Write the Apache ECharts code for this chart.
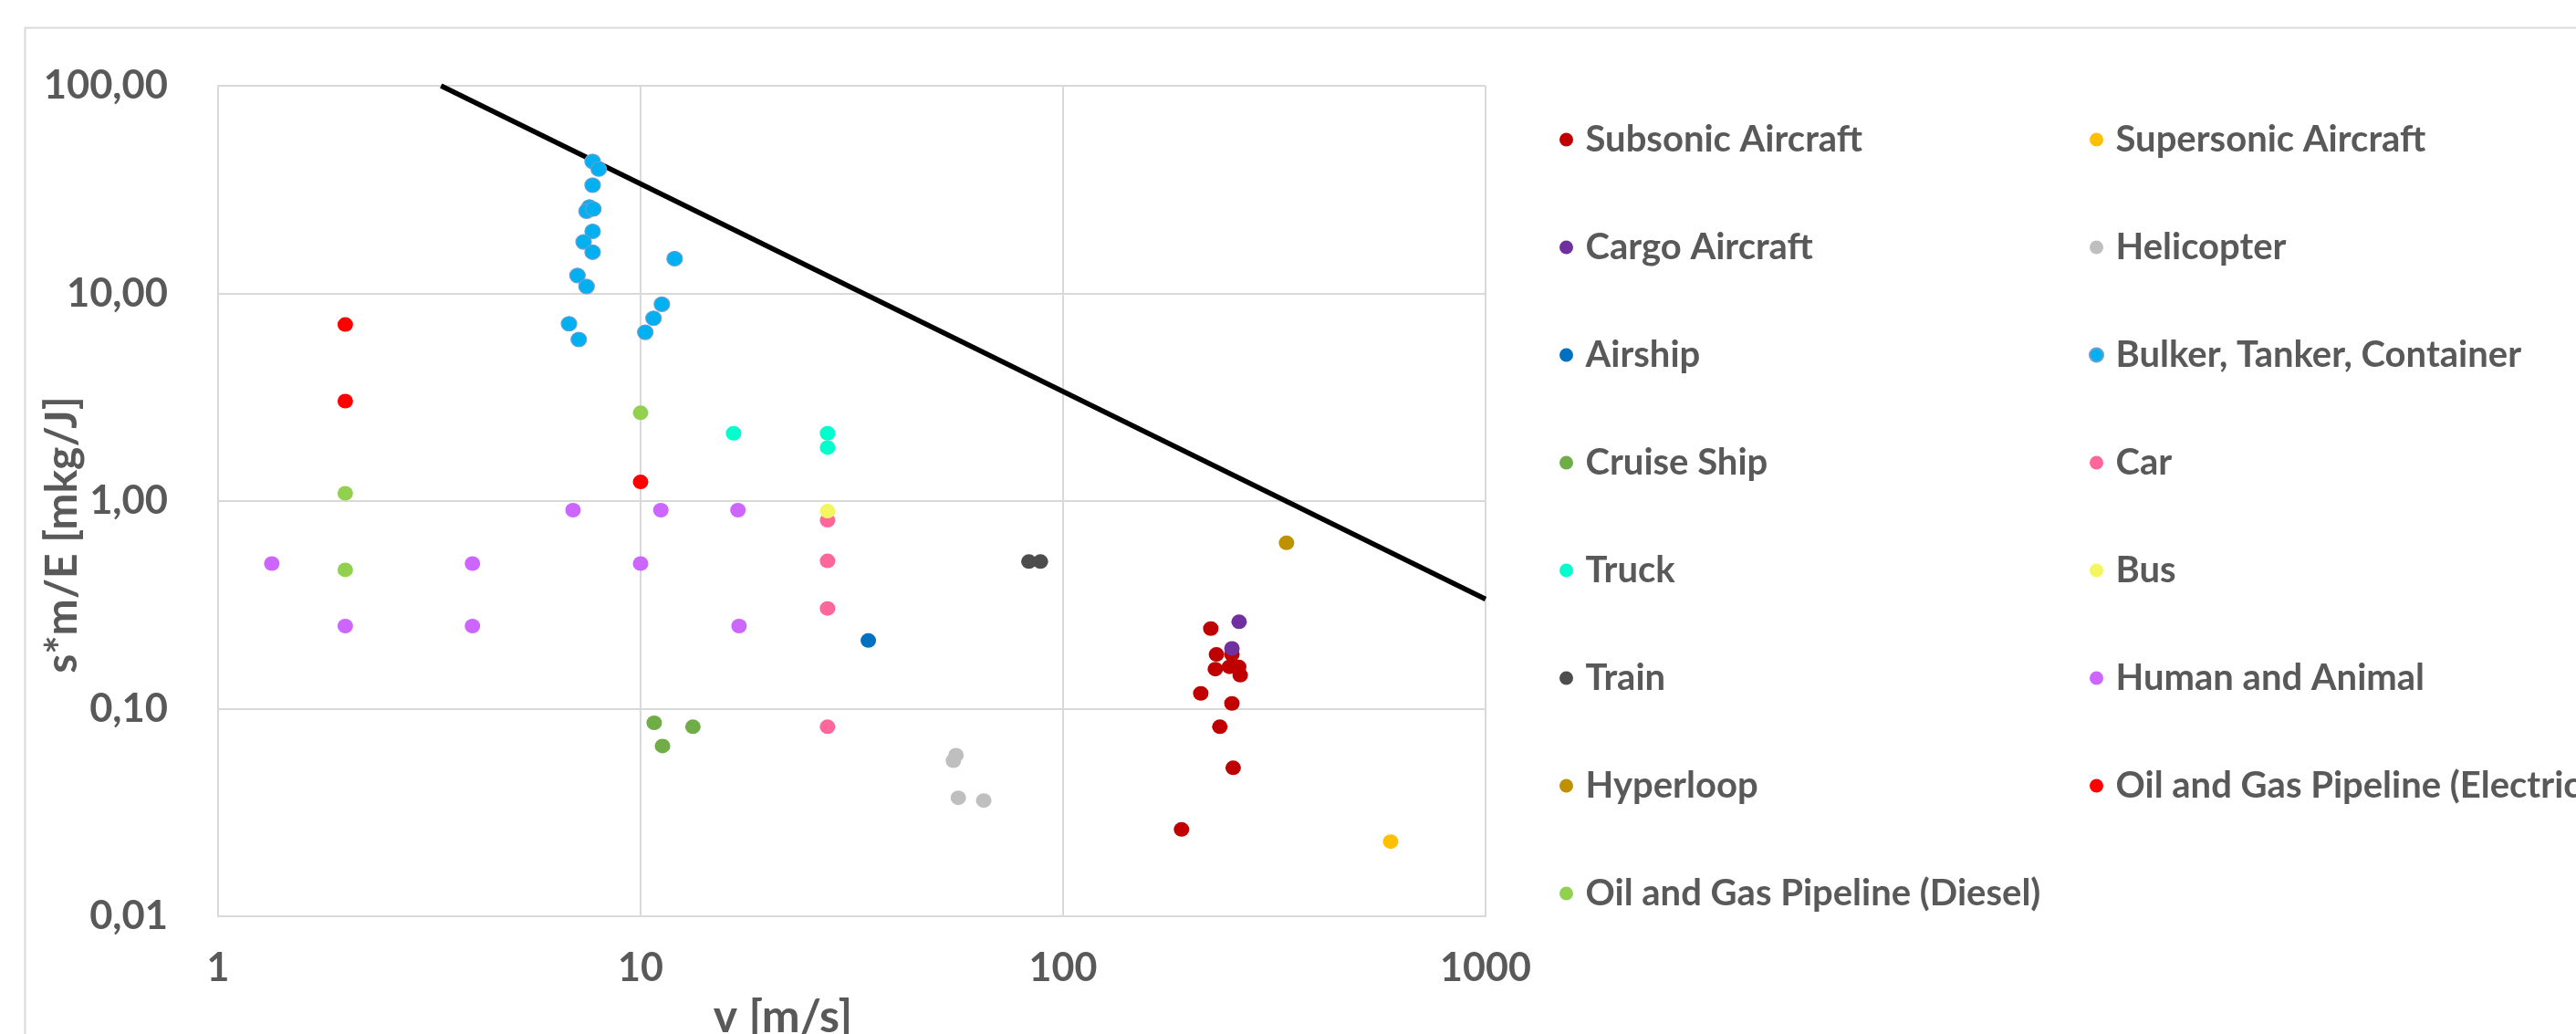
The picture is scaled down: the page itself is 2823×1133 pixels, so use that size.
<!DOCTYPE html>
<html>
<head>
<meta charset="utf-8">
<script src="https://cdn.jsdelivr.net/npm/echarts@6/dist/echarts.min.js"></script>
<style>
  html, body { margin: 0; padding: 0; background: #ffffff; overflow: hidden; }
  #chart { width: 2823px; height: 1133px; }
</style>
</head>
<body>
<div id="chart"></div>
<script>
// Speed v [m/s] vs. transport performance s*m/E [mkg/J], one array per vehicle class
const subsonicAircraft = [[223.7, 0.243], [251, 0.1825], [230.7, 0.1825], [229.3, 0.155], [247.7, 0.159], [260.4, 0.159], [262.6, 0.145], [211.8, 0.1185], [251, 0.106], [235, 0.0818], [252.7, 0.0519], [190.7, 0.0262]];
const supersonicAircraft = [[596, 0.0229]];
const cargoAircraft = [[261, 0.262], [251, 0.195]];
const helicopter = [[55.8, 0.0597], [55, 0.0561], [56.5, 0.0372], [64.9, 0.0361]];
const airship = [[34.6, 0.213]];
const bulkerTankerContainer = [[7.70, 43.2], [7.96, 39.7], [7.70, 33.2], [7.57, 26.1], [7.45, 24.9], [7.73, 25.5], [7.70, 19.9], [7.33, 17.7], [7.70, 15.8], [12.04, 14.7], [7.09, 12.2], [7.45, 10.8], [11.23, 8.87], [10.73, 7.59], [10.26, 6.50], [6.77, 7.14], [7.14, 6.0]];
const cruiseShip = [[10.77, 0.0855], [11.27, 0.0661], [13.3, 0.0818]];
const car = [[27.7, 0.808], [27.7, 0.515], [27.7, 0.304], [27.7, 0.0818]];
const truck = [[16.6, 2.12], [27.7, 2.12], [27.7, 1.81]];
const bus = [[27.7, 0.894]];
const train = [[83, 0.511], [88.4, 0.511]];
const humanAndAnimal = [[1.34, 0.5], [2, 0.25], [4, 0.5], [4, 0.25], [6.92, 0.904], [10, 0.5], [11.17, 0.904], [17, 0.904], [17.1, 0.25]];
const hyperloop = [[338, 0.629]];
const pipelineElectric = [[2, 7.08], [2, 3.03], [10, 1.236]];
const pipelineDiesel = [[2, 1.09], [2, 0.466], [10, 2.66]];

// Upper bound line s*m/E ~ 1/v
const limitLine = [[3.37, 100], [1000, 0.337]];

const seriesNames = ['Subsonic Aircraft', 'Supersonic Aircraft', 'Cargo Aircraft', 'Helicopter', 'Airship', 'Bulker, Tanker, Container', 'Cruise Ship', 'Car', 'Truck', 'Bus', 'Train', 'Human and Animal', 'Hyperloop', 'Oil and Gas Pipeline (Electric)', 'Oil and Gas Pipeline (Diesel)'];
const seriesData = [subsonicAircraft, supersonicAircraft, cargoAircraft, helicopter, airship, bulkerTankerContainer, cruiseShip, car, truck, bus, train, humanAndAnimal, hyperloop, pipelineElectric, pipelineDiesel];
const seriesColors = ['#C00000', '#FFC000', '#7030A0', '#BFBFBF', '#0070C0', '#00B0F0', '#70AD47', '#FF6699', '#00FFCC', '#F3F65E', '#4D4D4D', '#CC66FF', '#BF9000', '#FF0000', '#92D050'];

const xTickLabels = ['1', '10', '100', '1000'];
const yTickLabels = ['0,01', '0,10', '1,00', '10,00', '100,00'];

const textColor = '#595959';
const gridColor = '#D9D9D9';
const font = 'Lato';

const chart = echarts.init(document.getElementById('chart'), null, { renderer: 'canvas' });

const series = [{
  type: 'line',
  name: 'limit',
  data: limitLine,
  symbol: 'none',
  silent: true,
  lineStyle: { color: '#000000', width: 5.5 },
  z: 1
}];
seriesNames.forEach(function (name, i) {
  series.push({
    type: 'scatter',
    name: name,
    data: seriesData[i],
    symbol: 'circle',
    symbolSize: [17, 16],
    itemStyle: name === 'Bulker, Tanker, Container'
      ? { color: seriesColors[i], borderColor: '#6A9FD0', borderWidth: 1.2, opacity: 1 }
      : { color: seriesColors[i], opacity: 1 },
    z: 2
  });
});

const legendText = { fontFamily: font, fontWeight: 'bold', fontSize: 40, color: textColor, lineHeight: 40 };
const legendBase = {
  orient: 'vertical', top: 133, itemGap: 78, itemWidth: 32, itemHeight: 15,
  icon: 'circle', selectedMode: false, padding: 0, textStyle: legendText
};

chart.setOption({
  animation: false,
  backgroundColor: '#ffffff',
  textStyle: { fontFamily: font },
  grid: { left: 239, right: 2823 - 1628, top: 94, bottom: 1133 - 1004, containLabel: false, outerBoundsMode: 'none' },
  xAxis: {
    type: 'log', logBase: 10, min: 1, max: 1000,
    axisLine: { show: true, lineStyle: { color: gridColor, width: 2 } },
    axisTick: { show: false },
    minorTick: { show: false },
    splitLine: { show: true, lineStyle: { color: gridColor, width: 2 } },
    axisLabel: {
      margin: 36, fontFamily: font, fontWeight: 'bold', fontSize: 43, lineHeight: 43, color: textColor,
      formatter: function (v) { return xTickLabels[Math.round(Math.log10(v))]; }
    }
  },
  yAxis: {
    type: 'log', logBase: 10, min: 0.01, max: 100,
    axisLine: { show: true, lineStyle: { color: gridColor, width: 2 } },
    axisTick: { show: false },
    minorTick: { show: false },
    splitLine: { show: true, lineStyle: { color: gridColor, width: 2 } },
    axisLabel: {
      margin: 55, fontFamily: font, fontWeight: 'bold', fontSize: 43.5, color: textColor,
      formatter: function (v) { return yTickLabels[Math.round(Math.log10(v)) + 2]; }
    }
  },
  legend: [
    Object.assign({}, legendBase, { left: 1709, data: ['Subsonic Aircraft', 'Cargo Aircraft', 'Airship', 'Cruise Ship', 'Truck', 'Train', 'Hyperloop', 'Oil and Gas Pipeline (Diesel)'] }),
    Object.assign({}, legendBase, { left: 2289, data: ['Supersonic Aircraft', 'Helicopter', 'Bulker, Tanker, Container', 'Car', 'Bus', 'Human and Animal', 'Oil and Gas Pipeline (Electric)'] })
  ],
  graphic: [
    {
      type: 'rect', silent: true, z: -10,
      shape: { x: 27.5, y: 30.5, width: 3000, height: 1300 },
      style: { fill: 'none', stroke: gridColor, lineWidth: 2 }
    },
    {
      type: 'text', silent: true, x: 69, y: 586, rotation: Math.PI / 2,
      style: { text: 's*m/E [mkg/J]', fontFamily: font, fontWeight: 'bold', fontSize: 48, fill: textColor, align: 'center', verticalAlign: 'middle' }
    },
    {
      type: 'text', silent: true, x: 858, y: 1090,
      style: { text: 'v [m/s]', fontFamily: font, fontWeight: 'bold', fontSize: 50, fill: textColor, align: 'center', verticalAlign: 'top' }
    }
  ],
  series: series
});
</script>
</body>
</html>
